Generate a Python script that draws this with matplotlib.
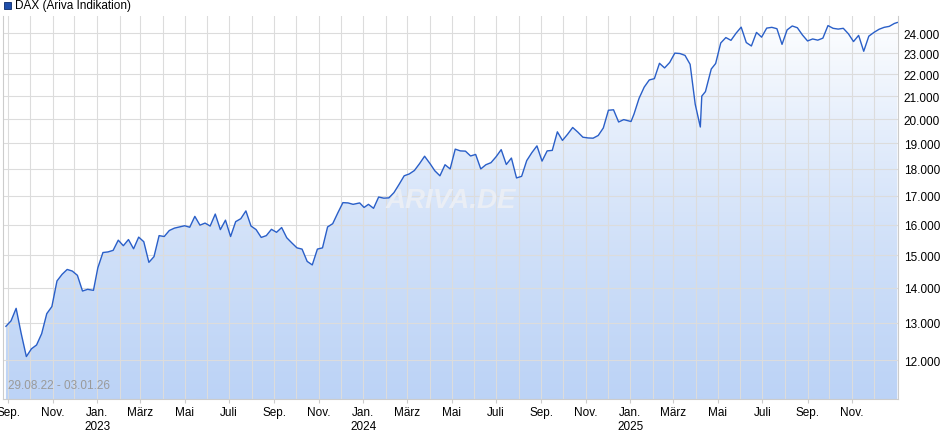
import numpy as np
import pandas as pd
import matplotlib
matplotlib.use("Agg")
import matplotlib.pyplot as plt
from matplotlib.ticker import FixedLocator, NullLocator, FuncFormatter
from matplotlib.patches import Polygon
import matplotlib.dates as mdates

plt.rcParams["font.family"] = ["Liberation Sans", "DejaVu Sans"]

# weekly closes
dates = pd.to_datetime([
    "2022-08-29", "2022-09-05", "2022-09-12", "2022-09-19", "2022-09-26", "2022-10-03", "2022-10-10",
    "2022-10-17", "2022-10-24", "2022-10-31", "2022-11-07", "2022-11-14", "2022-11-21", "2022-11-28",
    "2022-12-05", "2022-12-12", "2022-12-19", "2022-12-27",
    "2023-01-02", "2023-01-09", "2023-01-16", "2023-01-23", "2023-01-30", "2023-02-06", "2023-02-13",
    "2023-02-20", "2023-02-27", "2023-03-06", "2023-03-13", "2023-03-20", "2023-03-27", "2023-04-03",
    "2023-04-10", "2023-04-17", "2023-04-24", "2023-05-01", "2023-05-08", "2023-05-15", "2023-05-22",
    "2023-05-29", "2023-06-05", "2023-06-12", "2023-06-19", "2023-06-26", "2023-07-03", "2023-07-10",
    "2023-07-17", "2023-07-24", "2023-07-31", "2023-08-07", "2023-08-14", "2023-08-21", "2023-08-28",
    "2023-09-04", "2023-09-11", "2023-09-18", "2023-09-25", "2023-10-02", "2023-10-09", "2023-10-16",
    "2023-10-23", "2023-10-30", "2023-11-06", "2023-11-13", "2023-11-20", "2023-11-27", "2023-12-04",
    "2023-12-11", "2023-12-18", "2023-12-27",
    "2024-01-02", "2024-01-08", "2024-01-15", "2024-01-22", "2024-01-29", "2024-02-05", "2024-02-12",
    "2024-02-19", "2024-02-26", "2024-03-04", "2024-03-11", "2024-03-18", "2024-03-25", "2024-04-02",
    "2024-04-08", "2024-04-15", "2024-04-22", "2024-04-29", "2024-05-06", "2024-05-13", "2024-05-20",
    "2024-05-27", "2024-06-03", "2024-06-10", "2024-06-17", "2024-06-24", "2024-07-01", "2024-07-08",
    "2024-07-15", "2024-07-22", "2024-07-29", "2024-08-05", "2024-08-12", "2024-08-19", "2024-08-26",
    "2024-09-02", "2024-09-09", "2024-09-16", "2024-09-23", "2024-09-30", "2024-10-07", "2024-10-14",
    "2024-10-21", "2024-10-28", "2024-11-04", "2024-11-11", "2024-11-18", "2024-11-25", "2024-12-02",
    "2024-12-09", "2024-12-16", "2024-12-23",
    "2025-01-02", "2025-01-06", "2025-01-13", "2025-01-20", "2025-01-27", "2025-02-03", "2025-02-10",
    "2025-02-17", "2025-02-24", "2025-03-03", "2025-03-10", "2025-03-17", "2025-03-24", "2025-03-31",
    "2025-04-07", "2025-04-09", "2025-04-14", "2025-04-22", "2025-04-28", "2025-05-05", "2025-05-12",
    "2025-05-19", "2025-05-26", "2025-06-02", "2025-06-09", "2025-06-16", "2025-06-23", "2025-06-30",
    "2025-07-07", "2025-07-14", "2025-07-21", "2025-07-28", "2025-08-04", "2025-08-11", "2025-08-18",
    "2025-08-25", "2025-09-01", "2025-09-08", "2025-09-15", "2025-09-22", "2025-09-29", "2025-10-06",
    "2025-10-13", "2025-10-20", "2025-10-27", "2025-11-03", "2025-11-10", "2025-11-17", "2025-11-24",
    "2025-12-01", "2025-12-08", "2025-12-15", "2025-12-22", "2025-12-29", "2026-01-02",
])
values = [
    12900, 13050, 13400, 12700, 12100, 12300, 12400, 12700, 13250, 13450, 14200, 14400, 14550, 14500,
    14370, 13900, 13950, 13920,
    14600, 15080, 15100, 15150, 15480, 15300, 15500, 15200, 15580, 15430, 14770, 14950, 15630, 15600,
    15800, 15880, 15920, 15960, 15910, 16280, 15980, 16050, 15950, 16360, 15830, 16150, 15600, 16100,
    16200, 16470, 15950, 15830, 15570, 15630, 15840, 15740, 15900, 15560, 15390, 15230, 15190, 14800,
    14690, 15190, 15230, 15920, 16030, 16400, 16760, 16750, 16700, 16750,
    16590, 16700, 16560, 16960, 16920, 16930, 17120, 17420, 17740, 17810, 17940, 18200, 18490, 18180,
    17930, 17740, 18160, 18000, 18770, 18700, 18690, 18500, 18560, 18000, 18160, 18240, 18470, 18750,
    18170, 18420, 17660, 17720, 18320, 18630, 18900, 18300, 18700, 18720, 19470, 19120, 19370, 19650,
    19460, 19250, 19220, 19210, 19320, 19630, 20380, 20400, 19880, 19980,
    19900, 20210, 20900, 21400, 21730, 21790, 22510, 22290, 22550, 23000, 22980, 22890, 22460, 20640,
    19670, 21000, 21200, 22240, 22500, 23500, 23770, 23630, 23990, 24300, 23520, 23350, 24030, 23790,
    24250, 24290, 24220, 23430, 24160, 24360, 24270, 23900, 23600, 23700, 23640, 23740, 24380, 24240,
    24200, 24240, 23960, 23570, 23880, 23090, 23840, 24030, 24190, 24290, 24340, 24490, 24540,
]
y_ticks = [12000, 13000, 14000, 15000, 16000, 17000, 18000, 19000, 20000, 21000, 22000, 23000, 24000]
month_names = {1: "Jan.", 3: "März", 5: "Mai", 7: "Juli", 9: "Sep.", 11: "Nov."}

fig = plt.figure(figsize=(9.4, 4.35), dpi=100)
ax = fig.add_axes([3 / 940, 35 / 435, 895 / 940, 383 / 435])
ymin, ymax = 11060, 24880
xmin, xmax = mdates.date2num(pd.Timestamp("2022-08-25")), mdates.date2num(pd.Timestamp("2026-01-03"))
ax.set_xlim(xmin, xmax)

x = mdates.date2num(dates)
line_col = "#2a5fc8"
# gradient fill under line
grad = np.linspace(0, 1, 256).reshape(-1, 1)
cmap = matplotlib.colors.LinearSegmentedColormap.from_list("g", ["#ffffff", "#bcd3f6"])
im = ax.imshow(grad, cmap=cmap, aspect="auto", extent=[xmin, xmax, ymin, ymax],
               origin="upper", zorder=1)
poly = Polygon(np.column_stack([np.r_[x[0], x, x[-1]], np.r_[ymin, values, ymin]]),
               closed=True, facecolor="none", edgecolor="none")
ax.add_patch(poly)
im.set_clip_path(poly)
ax.set_yscale("log")
ax.set_ylim(ymin, ymax)
ax.set_xlim(xmin, xmax)
ax.plot(x, values, color=line_col, lw=1.0, zorder=3)

# grid
months = pd.date_range("2022-09-01", "2025-12-01", freq="MS")
for m in months:
    ax.axvline(mdates.date2num(m), color="#dcdcdc", lw=0.8, zorder=2)
for t in y_ticks:
    ax.axhline(t, color="#dcdcdc", lw=0.8, zorder=2)

ax.yaxis.tick_right()
ax.yaxis.set_major_locator(FixedLocator(y_ticks))
ax.yaxis.set_minor_locator(NullLocator())
ax.yaxis.set_major_formatter(FuncFormatter(lambda v, p: f"{int(v):,}".replace(",", ".")))
ax.tick_params(axis="y", length=0, labelsize=8.5, pad=4)

lab_months = [m for m in months if m.month in month_names]
ax.set_xticks([mdates.date2num(m) for m in lab_months])
ax.set_xticklabels([month_names[m.month] + ("\n" + str(m.year) if m.month == 1 else "")
                    for m in lab_months])
ax.xaxis.set_minor_locator(NullLocator())
ax.tick_params(axis="x", length=3, color="#cccccc", labelsize=8.5, pad=2)
for s in ax.spines.values():
    s.set_color("#cccccc")
ax.spines["top"].set_visible(False)

ax.text(0.006, 0.03, "29.08.22 - 03.01.26", transform=ax.transAxes, color="#9a9a9a", fontsize=8.5)
ax.text(0.5, 0.52, "ARIVA.DE", transform=ax.transAxes, color="#eaeef5", fontsize=20,
        fontweight="bold", fontstyle="italic", ha="center", va="center", zorder=2)
fig.patches.append(matplotlib.patches.Rectangle((4 / 940, 425 / 435), 7 / 940, 7 / 435,
                                               transform=fig.transFigure, facecolor="#1f4eaa",
                                               edgecolor="#0a2a6a", lw=0.6))
fig.text(15 / 940, 428.5 / 435, "DAX (Ariva Indikation)", fontsize=8.5, va="center")

fig.savefig("out.png", dpi=100)
